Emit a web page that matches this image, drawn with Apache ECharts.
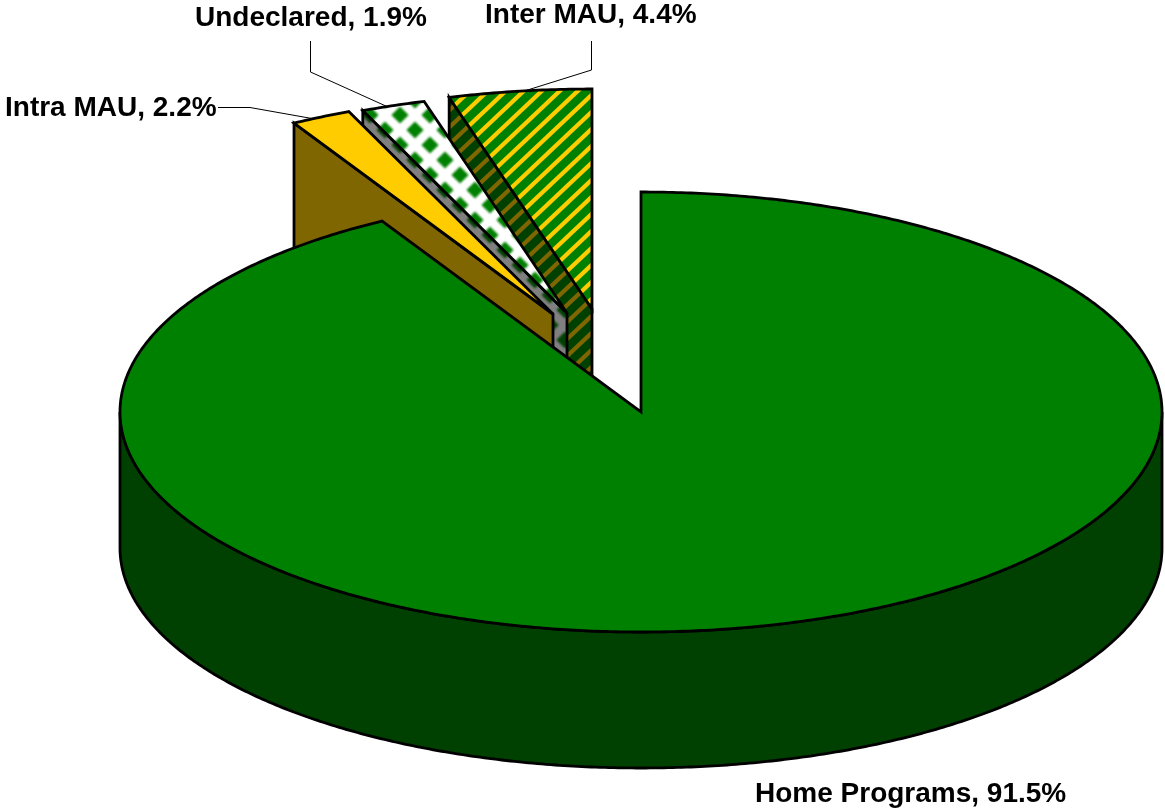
<!DOCTYPE html>
<html>
<head>
<meta charset="utf-8">
<style>
html,body{margin:0;padding:0;background:#fff;}
#main{width:1165px;height:809px;}
</style>
<script src="https://cdn.jsdelivr.net/npm/echarts@6/dist/echarts.min.js"></script>
</head>
<body>
<div id="main"></div>
<script>
// chart data
var categories = ["Home Programs", "Intra MAU", "Undeclared", "Inter MAU"];
var labelShares = [91.5, 2.2, 1.9, 4.4];
// wedge sizes as drawn in the picture, they differ a bit from the printed labels
var wedgeSizes = [91.72, 1.87, 1.99, 4.42];

// layout of the fake 3d pie
var cx = 641, cy = 412, rx = 521, ry = 220, depth = 136;
var explode = [[0, 0], [-88, -98], [-74, -99], [-49, -103]];
var labelPos = [[755, 794], [5, 108], [195, 18], [485, 15]];
var leaderKnee = [null, [[218, 107.5], [250, 107.5]], [[310.5, 41], [310.5, 72]], [[591.5, 41], [591.5, 70]]];
var leaderAt = [0, 0.355, 0.4, 0.535]; // where the leader meets the arc, fraction of the slice

function diamonds(bg, fg) {
    var c = document.createElement("canvas");
    c.width = c.height = 30;
    var g = c.getContext("2d");
    g.fillStyle = bg;
    g.fillRect(0, 0, 30, 30);
    g.fillStyle = fg;
    g.filter = "blur(0.8px)";
    [[25, 10], [10, 25], [-5, 10], [25, 40], [10, -5], [40, 25]].forEach(function (p) {
        g.beginPath();
        g.moveTo(p[0], p[1] - 8.6);
        g.lineTo(p[0] + 8.6, p[1]);
        g.lineTo(p[0], p[1] + 8.6);
        g.lineTo(p[0] - 8.6, p[1]);
        g.closePath();
        g.fill();
    });
    return { image: c, repeat: "repeat" };
}

function stripes(bg, fg) {
    var w = 18, h = 17, phase = 0.45;
    var c = document.createElement("canvas");
    c.width = w;
    c.height = h;
    var g = c.getContext("2d");
    g.fillStyle = bg;
    g.fillRect(0, 0, w, h);
    g.strokeStyle = fg;
    g.lineWidth = 4.2;
    // lines run past the tile so the butt caps do not leave seams
    for (var k = -2; k <= 3; k++) {
        g.beginPath();
        g.moveTo((k + phase + 1) * w, -h);
        g.lineTo((k + phase - 2) * w, 2 * h);
        g.stroke();
    }
    return { image: c, repeat: "repeat" };
}

var topFill = ["#008000", "#FFCC00", diamonds("#FFFFFF", "#008000"), stripes("#008000", "#FFCC00")];
var sideFill = ["#004000", "#806600", diamonds("#808080", "#004000"), stripes("#004000", "#806600")];

// cumulative angles, clockwise from 12 o'clock
var starts = [], ends = [];
(function () {
    var total = wedgeSizes.reduce(function (a, b) { return a + b; }, 0);
    var run = 0;
    wedgeSizes.forEach(function (v) {
        starts.push(run / total * 360);
        run += v;
        ends.push(run / total * 360);
    });
})();

function rim(a, ox, oy) {
    var t = a * Math.PI / 180;
    return [cx + ox + rx * Math.sin(t), cy + oy - ry * Math.cos(t)];
}

function arc(a0, a1, ox, oy) {
    var pts = [], n = Math.max(2, Math.ceil((a1 - a0) * 2));
    for (var i = 0; i <= n; i++) pts.push(rim(a0 + (a1 - a0) * i / n, ox, oy));
    return pts;
}

function poly(points, fill) {
    return {
        type: "polygon",
        shape: { points: points },
        style: { fill: fill, stroke: "#000", lineWidth: 2.8, lineJoin: "miter", miterLimit: 10 }
    };
}

function renderSlice(params, api) {
    var i = api.value(0);
    var a0 = starts[i], a1 = ends[i];
    var ox = explode[i][0], oy = explode[i][1];
    var kids = [];
    var apex = [cx + ox, cy + oy];

    // start side wall, only seen when it faces the viewer
    if (a0 > 180 && a0 < 360) {
        var e = rim(a0, ox, oy);
        kids.push(poly([e, apex, [apex[0], apex[1] + depth], [e[0], e[1] + depth]], sideFill[i]));
    }
    // outer skirt, front half only
    var f0 = Math.max(a0, 90), f1 = Math.min(a1, 270);
    if (f1 > f0) {
        var up = arc(f0, f1, ox, oy);
        var down = arc(f0, f1, ox, oy + depth).reverse();
        kids.push(poly(up.concat(down), sideFill[i]));
    }
    // top face
    kids.push(poly([apex].concat(arc(a0, a1, ox, oy)), topFill[i]));

    if (leaderKnee[i]) {
        var end = rim(a0 + (a1 - a0) * leaderAt[i], ox, oy);
        kids.unshift({
            type: "polyline",
            shape: { points: leaderKnee[i].concat([end]) },
            style: { fill: null, stroke: "#000", lineWidth: 1 }
        });
    }
    kids.push({
        type: "text",
        style: {
            x: labelPos[i][0],
            y: labelPos[i][1],
            text: categories[i] + ", " + labelShares[i] + "%",
            fill: "#000",
            font: "bold 28px 'Liberation Sans', Arial, sans-serif",
            verticalAlign: "middle"
        }
    });
    return { type: "group", children: kids };
}

var myChart = echarts.init(document.getElementById("main"), null, { renderer: "canvas" });
var order = [3, 2, 1, 0]; // back slices painted first
var option = {
    animation: false,
    backgroundColor: "#fff",
    series: [{
        type: "custom",
        coordinateSystem: "none",
        silent: true,
        clip: false,
        data: order.map(function (i) { return [i, wedgeSizes[i]]; }),
        renderItem: renderSlice
    }]
};
myChart.setOption(option);
</script>
</body>
</html>
